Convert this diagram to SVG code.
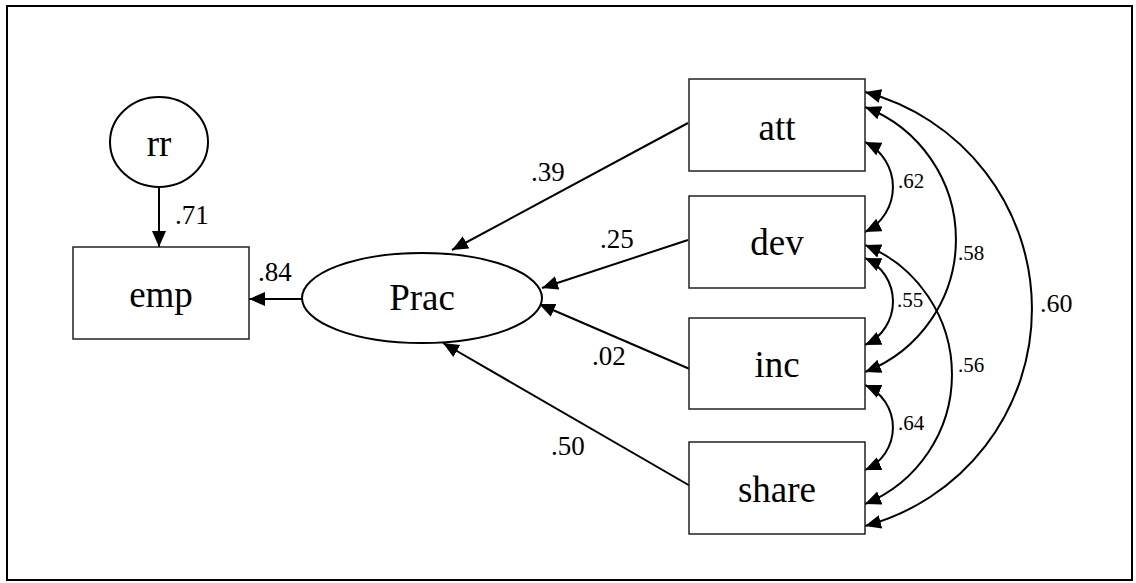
<svg xmlns="http://www.w3.org/2000/svg" width="1136" height="583" viewBox="0 0 1136 583">
<style>
.box{fill:#fff;stroke:#222;stroke-width:1.5}
.ell{fill:#fff;stroke:#000;stroke-width:2}
.node{font-size:37px;fill:#000;text-anchor:middle}
.lbl{font-size:27px;fill:#000}
.slbl{font-size:21px;fill:#000}
.con{fill:none;stroke:#000;stroke-width:2}
</style>
<defs>
<marker id="ah" markerUnits="userSpaceOnUse" markerWidth="18" markerHeight="16" refX="16" refY="7" orient="auto-start-reverse">
<path d="M0,0 L16,7 L0,14 z" fill="#000"/>
</marker>
</defs>
<rect x="7" y="6" width="1125" height="574" fill="#fff" stroke="#000" stroke-width="2"/>
<g id="connectors" font-family="Liberation Serif, DejaVu Serif, serif">
<line class="con" x1="159" y1="188" x2="159" y2="247" marker-end="url(#ah)"/>
<line class="con" x1="302" y1="299" x2="249" y2="299" marker-end="url(#ah)"/>
<line class="con" x1="688" y1="123" x2="452" y2="250" marker-end="url(#ah)"/>
<line class="con" x1="688" y1="240" x2="542" y2="288" marker-end="url(#ah)"/>
<line class="con" x1="692" y1="370" x2="539" y2="304" marker-end="url(#ah)"/>
<line class="con" x1="692" y1="487" x2="443" y2="343" marker-end="url(#ah)"/>
<path class="con" d="M865,142 A50.2,50.2 0 0 1 865,232" marker-start="url(#ah)" marker-end="url(#ah)"/>
<path class="con" d="M865,107 A142,142 0 0 1 865,372" marker-start="url(#ah)" marker-end="url(#ah)"/>
<path class="con" d="M865,92 A224.5,224.5 0 0 1 865,526" marker-start="url(#ah)" marker-end="url(#ah)"/>
<path class="con" d="M865,258 A47.8,47.8 0 0 1 865,345" marker-start="url(#ah)" marker-end="url(#ah)"/>
<path class="con" d="M865,245 A139.9,139.9 0 0 1 865,504" marker-start="url(#ah)" marker-end="url(#ah)"/>
<path class="con" d="M865,385 A46.3,46.3 0 0 1 865,470" marker-start="url(#ah)" marker-end="url(#ah)"/>
<text class="lbl" x="175" y="224">.71</text>
<text class="lbl" x="258" y="281">.84</text>
<text class="lbl" x="531" y="181">.39</text>
<text class="lbl" x="600" y="248">.25</text>
<text class="lbl" x="592" y="365">.02</text>
<text class="lbl" x="551" y="455">.50</text>
<text class="slbl" x="898" y="188">.62</text>
<text class="slbl" x="958" y="260">.58</text>
<text class="slbl" x="897" y="307">.55</text>
<text class="slbl" x="958" y="372">.56</text>
<text class="slbl" x="898" y="430">.64</text>
<text class="lbl" x="1040" y="312" style="font-size:26px">.60</text>
</g>
<g font-family="Liberation Serif, DejaVu Serif, serif">
<g id="rr"><ellipse class="ell" cx="159" cy="142" rx="49" ry="45"/><text class="node" x="159" y="156">rr</text></g>
<g id="emp"><rect class="box" x="73" y="247" width="176" height="92"/><text class="node" x="161" y="307">emp</text></g>
<g id="Prac"><ellipse class="ell" cx="422" cy="298" rx="120" ry="45"/><text class="node" x="422" y="310">Prac</text></g>
<g id="att"><rect class="box" x="689" y="79" width="176" height="92"/><text class="node" x="777" y="140">att</text></g>
<g id="dev"><rect class="box" x="689" y="196" width="176" height="92"/><text class="node" x="777" y="255">dev</text></g>
<g id="inc"><rect class="box" x="689" y="318" width="176" height="91"/><text class="node" x="777" y="377">inc</text></g>
<g id="share"><rect class="box" x="689" y="442" width="176" height="92"/><text class="node" x="777" y="502">share</text></g>
</g>
</svg>
